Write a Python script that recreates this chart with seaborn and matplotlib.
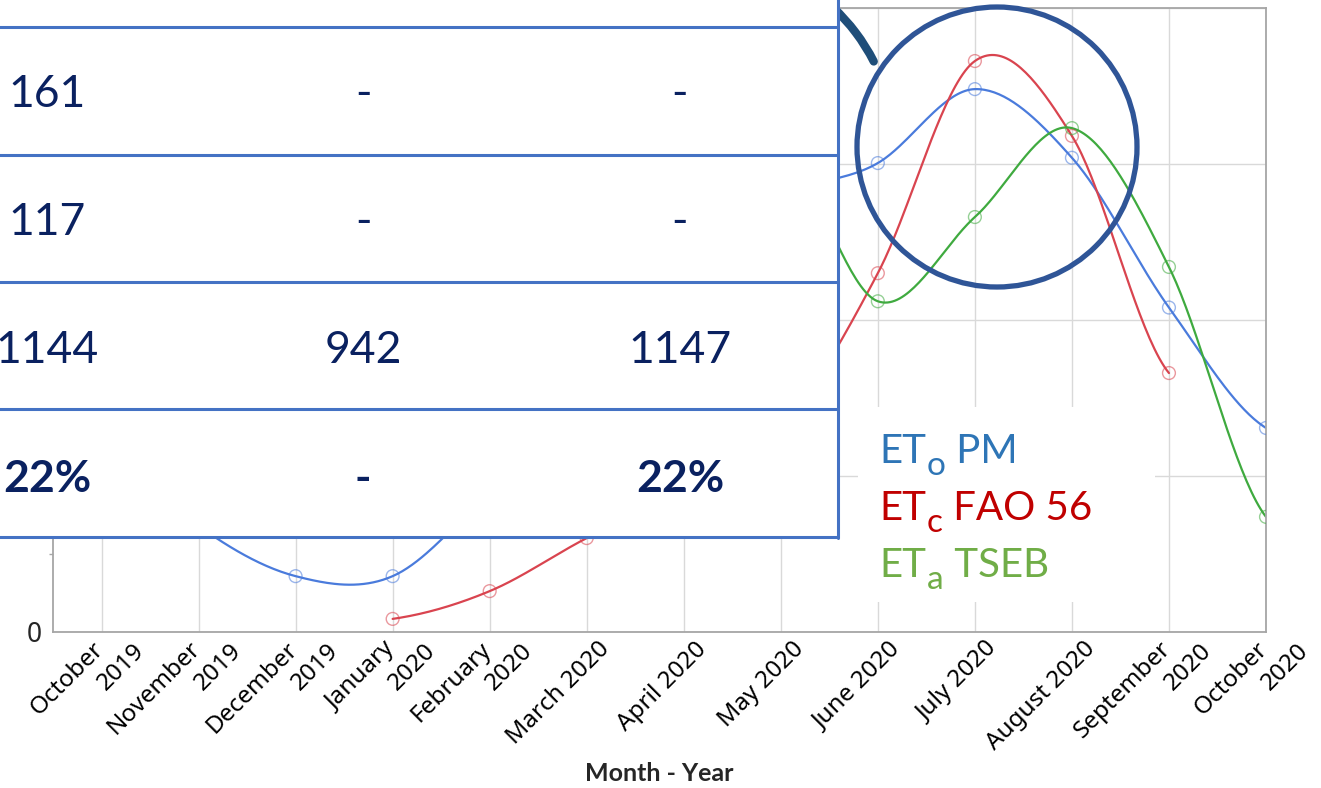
import numpy as np
import pandas as pd
import matplotlib
matplotlib.use('Agg')
import matplotlib.pyplot as plt
import matplotlib.patches as mpatches
import seaborn as sns

sns.set_style('whitegrid')
plt.rcParams['font.family'] = ['Noto Sans', 'DejaVu Sans']

# x categories
months = ['October\n2019', 'November\n2019', 'December\n2019', 'January\n2020',
          'February\n2020', 'March 2020', 'April 2020', 'May 2020', 'June 2020',
          'July 2020', 'August 2020', 'September\n2020', 'October\n2020']

nan = np.nan
# monthly ET (mm); the left part is hidden behind the table so estimated
eto_pm    = [62, 34, 17.9, 17.9, 45, 75, 105, 138, 150.3, 174, 152, 104, 65.4]
etc_fao56 = [nan, nan, nan, 4.2, 13.1, 30.1, 45, 65, 115, 183, 159, 83, nan]
eta_tseb  = [nan, nan, nan, nan, nan, nan, 140, 155, 106, 133, 161.5, 117, 36.9]

series_names = ['ETo PM', 'ETc FAO 56', 'ETa TSEB']
line_colors = ['#4a7bdc', '#d9444f', '#3faa3f']

# table pasted over the chart
table_col1 = ['', '161', '117', '1144', '22%']
table_col2 = ['', '-', '-', '942', '-']
table_col3 = ['', '-', '-', '1147', '22%']
table_bold = [False, False, False, False, True]

# legend text: (main, subscript, rest)
legend_parts = [('ET', 'o', ' PM'), ('ET', 'c', ' FAO 56'), ('ET', 'a', ' TSEB')]
legend_colors = ['#2e75b6', '#c00000', '#70ad47']


def smooth(y, n=40):
    # catmull-rom like the excel "smoothed line"
    y = np.asarray(y, float)
    p = np.concatenate([[y[0]], y, [y[-1]]])
    t = np.linspace(0, 1, n, endpoint=False)
    h00 = 2*t**3 - 3*t**2 + 1
    h10 = t**3 - 2*t**2 + t
    h01 = -2*t**3 + 3*t**2
    h11 = t**3 - t**2
    xs, ys = [], []
    for i in range(len(y) - 1):
        m1 = (p[i+2] - p[i]) / 2
        m2 = (p[i+3] - p[i+1]) / 2
        ys.append(h00*p[i+1] + h10*m1 + h01*p[i+2] + h11*m2)
        xs.append(i + t)
    xs.append([len(y) - 1])
    ys.append([y[-1]])
    return np.concatenate(xs), np.concatenate(ys)


rows_line = []
rows_pts = []
for name, vals in zip(series_names, [eto_pm, etc_fao56, eta_tseb]):
    vals = np.asarray(vals, float)
    idx = np.where(~np.isnan(vals))[0]
    sx, sy = smooth(vals[idx])
    rows_line.append(pd.DataFrame({'x': sx + idx[0], 'y': sy, 'series': name}))
    rows_pts.append(pd.DataFrame({'x': idx, 'y': vals[idx], 'series': name}))
df_line = pd.concat(rows_line, ignore_index=True)
df_pts = pd.concat(rows_pts, ignore_index=True)

W, H = 1321, 788
fig = plt.figure(figsize=(W/100, H/100), dpi=100)
ax = fig.add_axes([53/W, 1 - 632/H, (1266-53)/W, (632-8)/H])

pal = dict(zip(series_names, line_colors))
sns.lineplot(data=df_line, x='x', y='y', hue='series', palette=pal, sort=False,
             estimator=None, legend=False, lw=1.6, ax=ax)
sns.scatterplot(data=df_pts, x='x', y='y', hue='series', palette=pal, s=85,
                legend=False, ax=ax, zorder=3)
pts = ax.collections[-1]
ec = pts.get_facecolors().copy()
ec[:, 3] = 0.55
pts.set_edgecolors(ec)
pts.set_facecolors('none')
pts.set_linewidths(1.0)

ax.set_xlim(-0.5, 12)
ax.set_ylim(0, 200)
ax.set_xticks(range(len(months)))
ax.set_xticklabels([''] * len(months))
# excel-style rotated labels, the second line is pushed further along
for i, lab in enumerate(months):
    lines = lab.split('\n')
    if len(lines) == 1:
        offs = [(11, 5)]
    else:
        offs = [(-10, 5), (31, 7)]
    for txt, (dx, dy) in zip(lines, offs):
        ax.annotate(txt, xy=(i, 0), xycoords=('data', 'axes fraction'),
                    xytext=(dx, -dy), textcoords='offset pixels', rotation=45,
                    rotation_mode='anchor', ha='right', va='top', fontsize=17.5,
                    color='black', annotation_clip=False)
ax.set_yticks([0, 50, 100, 150, 200])
ax.set_yticklabels(['0', '50', '100', '150', '200'], fontsize=19)
ax.set_yticks([25, 75, 125, 175], minor=True)
ax.tick_params(axis='x', length=0)
ax.tick_params(axis='y', which='major', length=0, pad=8)
ax.tick_params(axis='y', which='minor', length=3, width=1, color='#a6a6a6', left=True)
ax.grid(True, color='#d9d9d9', lw=1)
ax.grid(False, which='minor')
for s in ax.spines.values():
    s.set_color('#a6a6a6')
    s.set_linewidth(1.3)
ax.set_ylabel('')
ax.set_xlabel('Month - Year', fontsize=18, fontweight='bold', family='Lato')
ax.xaxis.set_label_coords(0.5, -0.208)

# overlay in pixel coordinates
ov = fig.add_axes([0, 0, 1, 1], zorder=5)
ov.set_xlim(0, W)
ov.set_ylim(H, 0)
ov.axis('off')
renderer = fig.canvas.get_renderer()

# legend box
ov.add_patch(mpatches.Rectangle((858, 407), 297, 195, fc='white', ec='none', zorder=1))
for (main, sub, rest), col, yb in zip(legend_parts, legend_colors, [463, 520, 577]):
    t1 = ov.text(879, yb, main, color=col, fontsize=29, family='Lato', va='baseline', zorder=2)
    x1 = t1.get_window_extent(renderer).x1 + 1
    t2 = ov.text(x1, yb + 12, sub, color=col, fontsize=24, family='Lato', va='baseline', zorder=2)
    x2 = t2.get_window_extent(renderer).x1
    ov.text(x2, yb, rest, color=col, fontsize=29, family='Lato', va='baseline', zorder=2)

# dark arc from a circle that sits behind the table
ov.add_patch(mpatches.Arc((700, 150), 390, 390, theta1=-47, theta2=-27,
                          color='#1f4e79', lw=6, capstyle='round', zorder=1))

# table
ov.add_patch(mpatches.Rectangle((-10, -10), 848, 548, fc='white', ec='none', zorder=3))
tc = '#4472c4'
for yl in [27, 155, 282, 409, 537]:
    ov.plot([-10, 838], [yl, yl], color=tc, lw=2.2, zorder=4, solid_capstyle='butt')
ov.plot([838, 838], [-10, 538], color=tc, lw=2.2, zorder=4)
row_y = [0, 94, 222, 350, 479]
col_x = [47, 363, 680]
for r in range(1, 5):
    for cx, col in zip(col_x, [table_col1, table_col2, table_col3]):
        ov.text(cx, row_y[r], col[r], ha='center', va='center', fontsize=32,
                family='Lato', color='#0a2160',
                fontweight='bold' if table_bold[r] else 'normal', zorder=5)

# highlight circle
ov.add_patch(mpatches.Circle((997, 147), 140, fill=False, ec='#2f5597', lw=3.8, zorder=6))

fig.savefig('out.png', dpi=100)
